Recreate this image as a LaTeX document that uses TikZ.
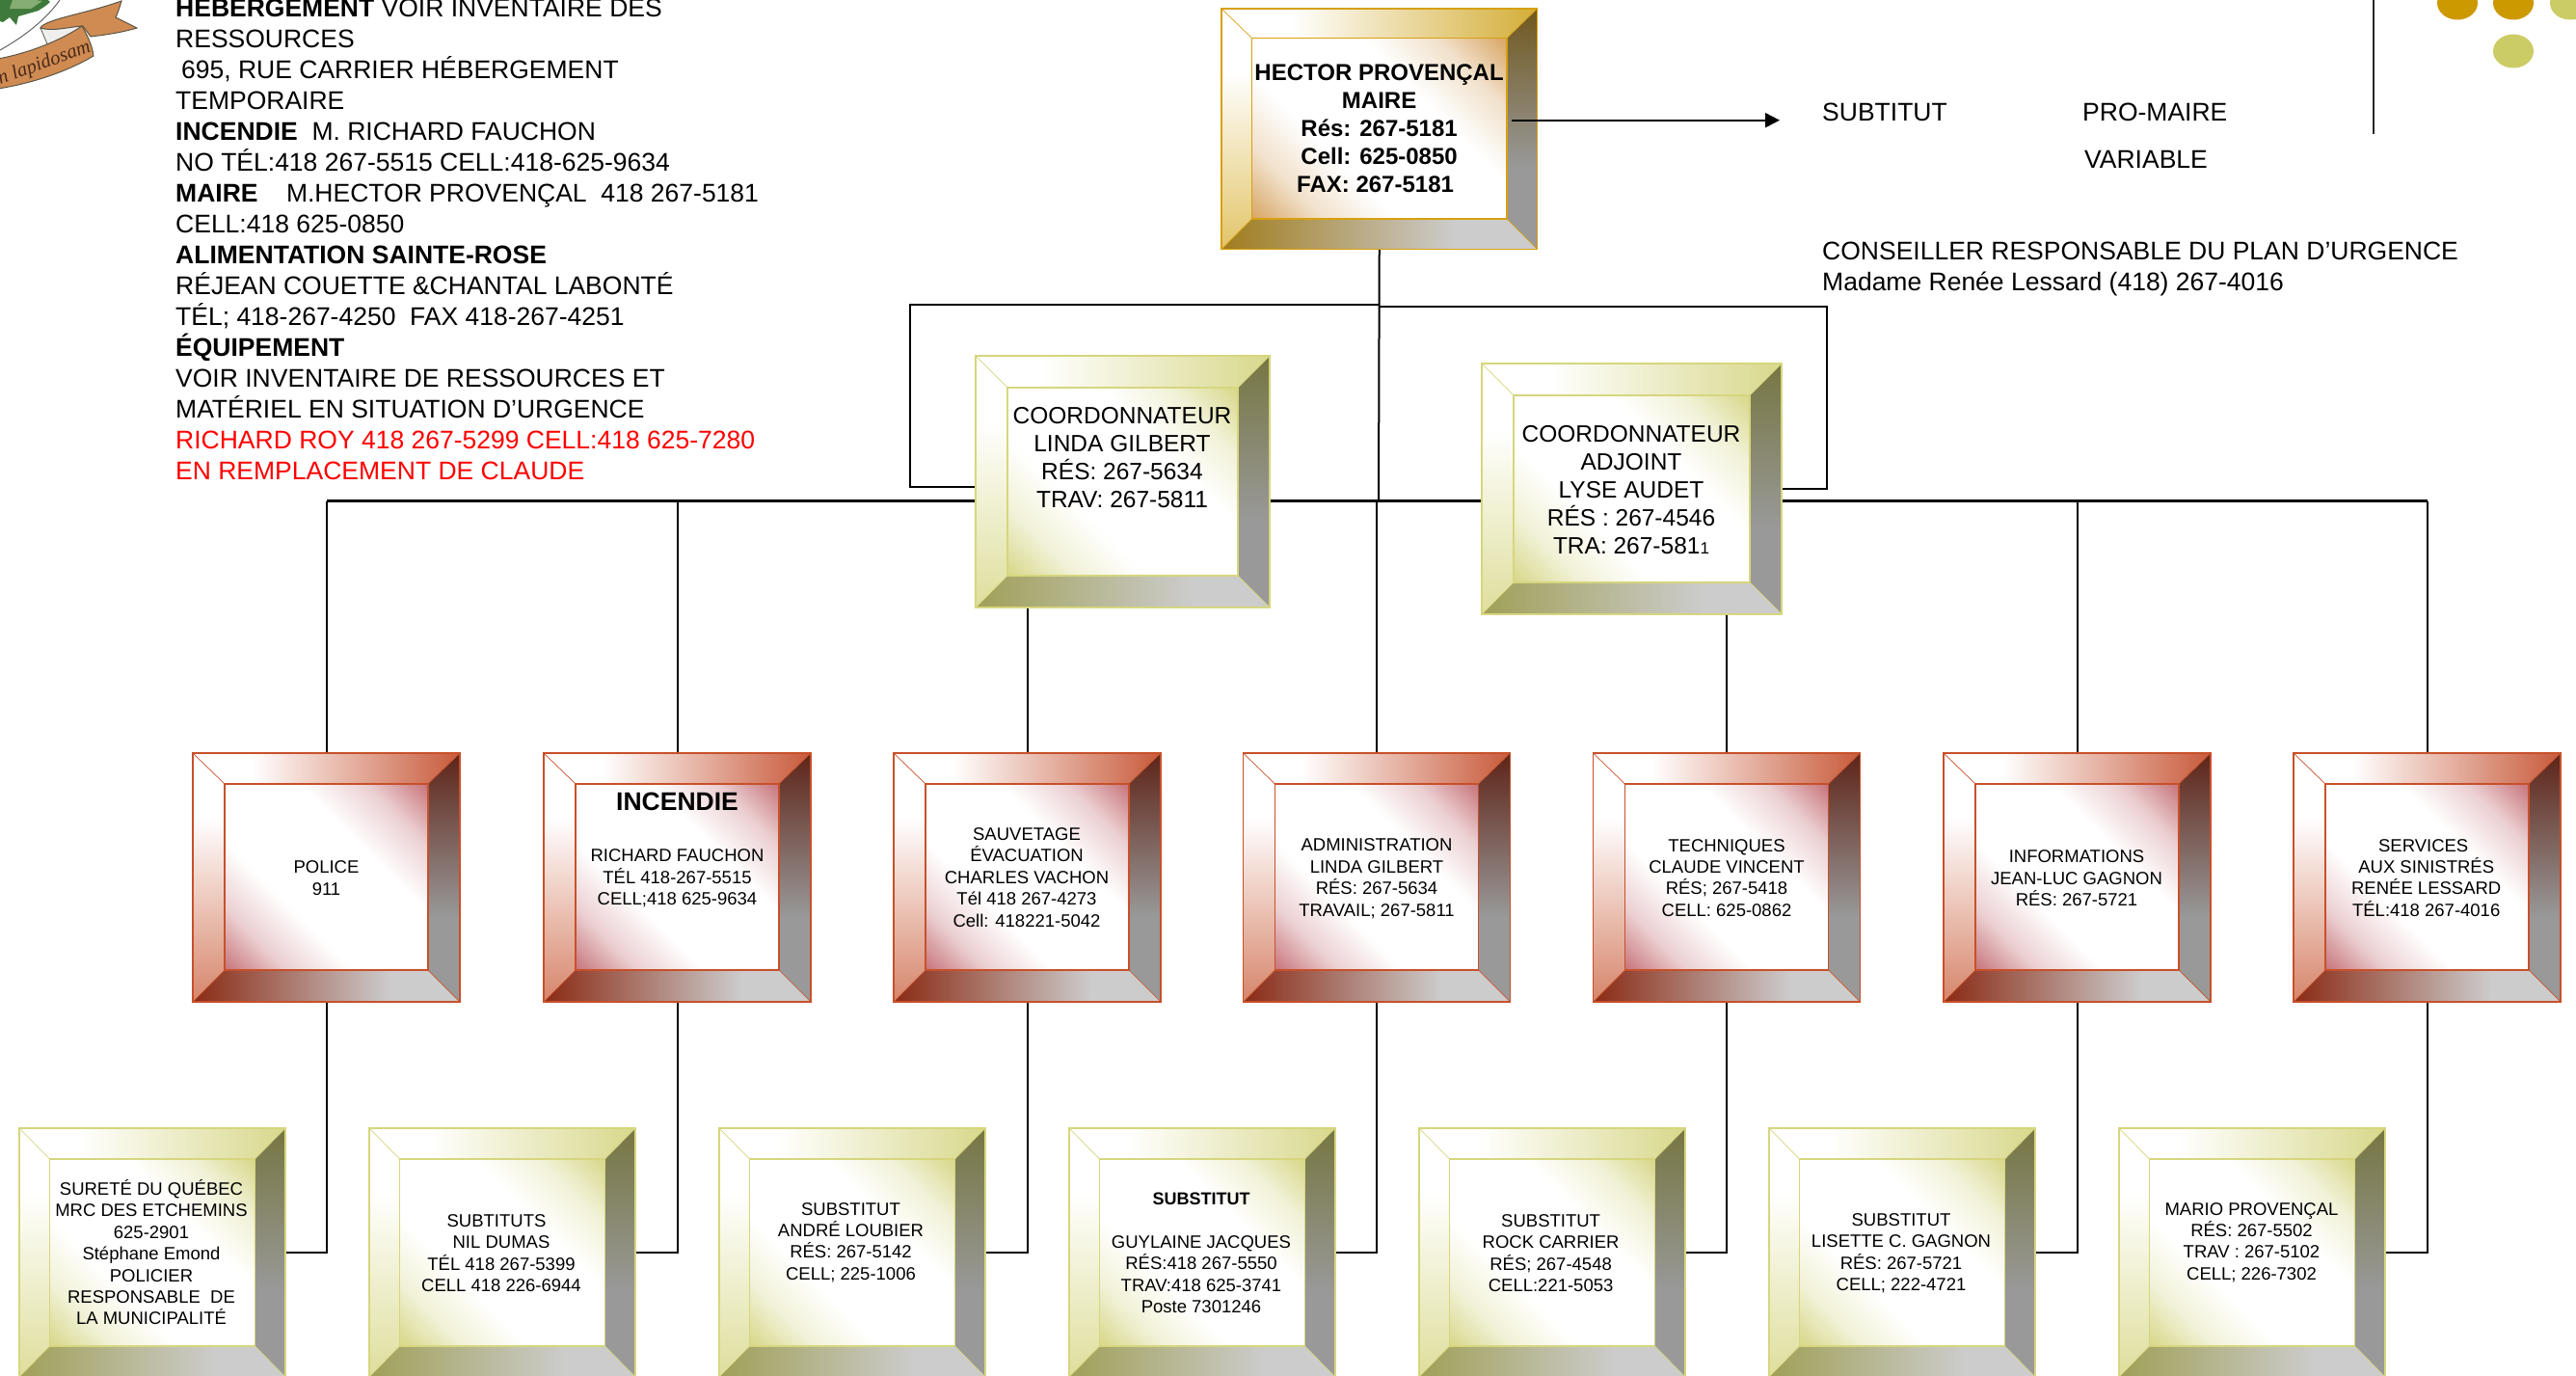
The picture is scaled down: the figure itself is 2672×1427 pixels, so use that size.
\documentclass[tikz,border=0pt]{standalone}
\usepackage{fontspec}
\setmainfont{Liberation Sans}
\newfontfamily\logofont{Liberation Serif}
\usetikzlibrary{arrows.meta,fit}
\pgfdeclarelayer{bg}
\pgfsetlayers{bg,main}
\definecolor{gldDot}{HTML}{CC9900}
\definecolor{grnDot}{HTML}{CCCC66}
\definecolor{ribbonFill}{HTML}{CF8B52}
\definecolor{ribbonLine}{HTML}{5C5646}
\definecolor{ribbonText}{HTML}{4A2A1A}
\definecolor{leafDark}{HTML}{3E7A3C}
\definecolor{leafLight}{HTML}{86AE72}
\definecolor{foldFill}{HTML}{EFEFEF}
\newcommand{\defscheme}[7]{%
 \definecolor{#1line}{HTML}{#2}\definecolor{#1face}{HTML}{#3}\definecolor{#1top}{HTML}{#4}%
 \definecolor{#1left}{HTML}{#5}\definecolor{#1dark}{HTML}{#6}\definecolor{#1low}{HTML}{#7}%
 \colorlet{#1mid}{#1face!35!white}%
 \definecolor{grayA}{HTML}{999999}\definecolor{grayB}{HTML}{CCCCCC}%
 \pgfdeclareverticalshading{#1Sface}{100bp}{color(0bp)=(#1face);color(15bp)=(#1face);color(26bp)=(#1mid);color(38bp)=(white);color(62bp)=(white);color(74bp)=(#1mid);color(85bp)=(#1face);color(100bp)=(#1face)}%
 \pgfdeclarehorizontalshading{#1Stop}{100bp}{color(0bp)=(white);color(36bp)=(white);color(75bp)=(#1top);color(100bp)=(#1top)}%
 \pgfdeclareverticalshading{#1Sleft}{100bp}{color(0bp)=(#1left);color(25bp)=(#1left);color(62bp)=(white);color(100bp)=(white)}%
 \pgfdeclareverticalshading{#1Sright}{100bp}{color(0bp)=(grayA);color(25bp)=(grayA);color(42bp)=(grayA);color(75bp)=(#1dark);color(100bp)=(#1dark)}%
 \pgfdeclarehorizontalshading{#1Sbot}{100bp}{color(0bp)=(#1low);color(25bp)=(#1low);color(62bp)=(grayB);color(75bp)=(grayB);color(100bp)=(grayB)}%
}
\defscheme{red}{C8502A}{C8787E}{C85A3A}{D6856A}{5E2418}{8A2A14}
\defscheme{grn}{D6D67E}{D8D88C}{D8D88C}{DEDE9C}{767642}{A0A058}
\defscheme{gld}{D8A010}{D8A868}{D4AE38}{E2C468}{70581E}{A07C1E}
\tikzset{
 x=1pt,y=-1pt,
 boxnode/.style={inner sep=0pt,outer sep=0pt},
 lbl/.style={align=center,inner sep=0pt,font=\fontsize{18.5}{22.4}\selectfont},
 midlbl/.style={align=center,inner sep=0pt,font=\fontsize{24.5}{29}\selectfont},
 toplbl/.style={align=center,inner sep=0pt,font=\fontsize{24}{29}\selectfont\bfseries},
 bigtxt/.style={align=left,inner sep=0pt,font=\fontsize{26.5}{32}\selectfont},
 link/.style={draw=black,line width=2pt},
 mainlink/.style={draw=black,line width=2.6pt},
 hairlink/.style={draw=black,line width=1.4pt},
}
\newcommand{\bev}[9]{%
 \shade[shading=#9Sface,shading angle=-45] (#2+#6,#3+#7) rectangle (#4-#6,#5-#8);
 \shade[shading=#9Stop] (#2,#3) -- (#4,#3) -- (#4-#6,#3+#7) -- (#2+#6,#3+#7) -- cycle;
 \shade[shading=#9Sleft] (#2,#3) -- (#2+#6,#3+#7) -- (#2+#6,#5-#8) -- (#2,#5) -- cycle;
 \shade[shading=#9Sright] (#4,#3) -- (#4,#5) -- (#4-#6,#5-#8) -- (#4-#6,#3+#7) -- cycle;
 \shade[shading=#9Sbot] (#2,#5) -- (#4,#5) -- (#4-#6,#5-#8) -- (#2+#6,#5-#8) -- cycle;
 \draw[#9line,line width=1.6pt] (#2,#3) rectangle (#4,#5);
 \draw[#9line,line width=1.1pt] (#2+#6,#3+#7) rectangle (#4-#6,#5-#8);
 \draw[#9line,line width=.7pt] (#2,#3) -- (#2+#6,#3+#7) (#4,#3) -- (#4-#6,#3+#7) (#2,#5) -- (#2+#6,#5-#8) (#4,#5) -- (#4-#6,#5-#8);
 \node[boxnode,fit={(#2,#3)(#4,#5)}] (#1) {};
}
\begin{document}
\begin{tikzpicture}
\useasboundingbox (0,0) rectangle (2672,1427);
\begin{pgfonlayer}{bg}\fill[white] (0,0) rectangle (2672,1427);\end{pgfonlayer}

% logo
\fill[leafDark] (52,2) .. controls (46,8) and (42,9) .. (40,11) -- (33,13) -- (19,17) -- (17,26) -- (10,18) -- (3,23) -- (0,22) -- (0,0) -- (47,-3) -- cycle;
\fill[leafLight] (14,-3) -- (44,1) -- (32,9) -- (10,9) -- cycle;
\draw[gray!70!black,line width=.9pt] (62,0) .. controls (48,20) and (25,38) .. (0,52);
\draw[ribbonLine,fill=foldFill,line width=.8pt] (42,29) -- (50,48) -- (88,35) -- (83,26) -- cycle;
\draw[ribbonLine,fill=ribbonFill,line width=1pt] (42,29) .. controls (46,20) and (90,14) .. (126,1) .. controls (124,8) and (122,14) .. (120,18) -- (142,29) .. controls (125,34) and (110,36) .. (94,38) -- (86,27) .. controls (70,28) and (55,33) .. (42,29) -- cycle;
\draw[ribbonLine,fill=ribbonFill,line width=1pt] (-2,61) .. controls (25,56) and (60,44) .. (85,27) .. controls (90,35) and (96,48) .. (97,58) .. controls (70,74) and (35,86) .. (-2,92) -- cycle;
\node[inner sep=0pt,rotate=20,text=ribbonText,font=\logofont\itshape\fontsize{20.5}{21}\selectfont] (motto) at (46,66) {n lapidosam};

% boxes
\bev{mayor}{1267}{9}{1594.5}{258.5}{31.5}{30.5}{31.5}{gld}
\bev{coordA}{1012}{369}{1317}{630}{33}{33}{33}{grn}
\bev{coordB}{1537}{377}{1848}{637}{33}{33}{33}{grn}
\bev{police}{200}{781}{477}{1039}{33}{32}{33}{red}
\bev{incendie}{564}{781}{841}{1039}{33}{32}{33}{red}
\bev{sauvetage}{927}{781}{1204}{1039}{33}{32}{33}{red}
\bev{admin}{1289.5}{781}{1566.5}{1039}{33}{32}{33}{red}
\bev{techniques}{1652.5}{781}{1929.5}{1039}{33}{32}{33}{red}
\bev{informations}{2016}{781}{2293}{1039}{33}{32}{33}{red}
\bev{services}{2379}{781}{2656}{1039}{33}{32}{33}{red}
\bev{surete}{20}{1170}{296}{1428}{31.5}{32}{32}{grn}
\bev{subtituts}{383}{1170}{659}{1428}{31.5}{32}{32}{grn}
\bev{loubier}{746}{1170}{1022}{1428}{31.5}{32}{32}{grn}
\bev{jacques}{1109}{1170}{1385}{1428}{31.5}{32}{32}{grn}
\bev{carrier}{1472}{1170}{1748}{1428}{31.5}{32}{32}{grn}
\bev{lisette}{1835}{1170}{2111}{1428}{31.5}{32}{32}{grn}
\bev{mario}{2198}{1170}{2474}{1428}{31.5}{32}{32}{grn}

% box labels
\node[toplbl] (mayorT) at (1430.6,133.3) {HECTOR PROVENÇAL\\MAIRE\\Rés: 267-5181\\Cell: 625-0850\\FAX: 267-5181\makebox[8pt]{}};
\node[midlbl] (coordAT) at (1164,474.5) {COORDONNATEUR\\LINDA GILBERT\\RÉS: 267-5634\\TRAV: 267-5811};
\node[midlbl] (coordBT) at (1692,507.8) {COORDONNATEUR\\ADJOINT\\LYSE AUDET\\RÉS : 267-4546\\TRA: 267-581{\fontsize{17}{17}\selectfont 1}};
\node[lbl] (policeT) at (338.5,910.5) {POLICE\\911};
\node[lbl] (incendieT) at (702.5,881.5) {{\fontsize{26.5}{30}\selectfont\bfseries INCENDIE}\\[31pt]RICHARD FAUCHON\\TÉL 418-267-5515\\CELL;418 625-9634};
\node[lbl] (sauvetageT) at (1065,910) {SAUVETAGE\\ÉVACUATION\\CHARLES VACHON\\Tél 418 267-4273\\Cell: 418221-5042};
\node[lbl] (adminT) at (1428,911.3) {ADMINISTRATION\\LINDA GILBERT\\RÉS: 267-5634\\TRAVAIL; 267-5811};
\node[lbl] (techniquesT) at (1791,910.3) {TECHNIQUES\\CLAUDE VINCENT\\RÉS; 267-5418\\CELL: 625-0862};
\node[lbl] (informationsT) at (2154,910.7) {INFORMATIONS\\JEAN-LUC GAGNON\\RÉS: 267-5721};
\node[lbl] (servicesT) at (2516.7,910.3) {SERVICES\makebox[6pt]{}\\AUX SINISTRÉS\\RENÉE LESSARD\\TÉL:418 267-4016};
\node[lbl] (sureteT) at (157,1298.7) {SURETÉ DU QUÉBEC\\MRC DES ETCHEMINS\\625-2901\\Stéphane Emond\\POLICIER\\RESPONSABLE~~DE\\LA MUNICIPALITÉ};
\node[lbl] (subtitutsT) at (520,1299.5) {SUBTITUTS\makebox[10pt]{}\\NIL DUMAS\\TÉL 418 267-5399\\CELL 418 226-6944};
\node[lbl] (loubierT) at (882.5,1288.5) {SUBSTITUT\\ANDRÉ LOUBIER\\RÉS: 267-5142\\CELL; 225-1006};
\node[lbl] (jacquesT) at (1246,1299.5) {{\fontsize{18}{22}\selectfont\bfseries SUBSTITUT}\\[22.4pt]GUYLAINE JACQUES\\RÉS:418 267-5550\\TRAV:418 625-3741\\Poste 7301246};
\node[lbl] (carrierT) at (1608.6,1299.7) {SUBSTITUT\\ROCK CARRIER\\RÉS; 267-4548\\CELL:221-5053};
\node[lbl] (lisetteT) at (1972,1299.7) {SUBSTITUT\\LISETTE C. GAGNON\\RÉS: 267-5721\\CELL; 222-4721};
\node[lbl] (marioT) at (2335.5,1288.5) {MARIO PROVENÇAL\\RÉS: 267-5502\\TRAV : 267-5102\\CELL; 226-7302};

% free texts
\node[bigtxt,anchor=north west] (info) at (182,-1.3) {\textbf{HEBERGEMENT} VOIR INVENTAIRE DES\\RESSOURCES\\\hspace*{6pt}695, RUE CARRIER HÉBERGEMENT\\TEMPORAIRE\\\textbf{INCENDIE}~~M. RICHARD FAUCHON\\NO TÉL:418 267-5515 CELL:418-625-9634\\\textbf{MAIRE}~~~~M.HECTOR PROVENÇAL~~418 267-5181\\CELL:418 625-0850\\\textbf{ALIMENTATION SAINTE-ROSE}\\RÉJEAN COUETTE \&CHANTAL LABONTÉ\\TÉL; 418-267-4250~~FAX 418-267-4251\\\textbf{ÉQUIPEMENT}\\VOIR INVENTAIRE DE RESSOURCES ET\\MATÉRIEL EN SITUATION D’URGENCE\\\textcolor{red}{RICHARD ROY 418 267-5299 CELL:418 625-7280}\\\textcolor{red}{EN REMPLACEMENT DE CLAUDE}};
\node[bigtxt,anchor=west] (subst) at (1890,116.7) {SUBTITUT};
\node[bigtxt,anchor=west] (promaire) at (2160,116.7) {PRO-MAIRE};
\node[bigtxt,anchor=west] (variable) at (2162,165.5) {VARIABLE};
\node[bigtxt,anchor=north west] (conseiller) at (1890,251) {CONSEILLER RESPONSABLE DU PLAN D’URGENCE\\Madame Renée Lessard (418) 267-4016};

% decorations
\coordinate (ruleTop) at (2462,0);
\coordinate (ruleEnd) at (2462,139);
\draw[black!85,line width=1.6pt] (ruleTop) -- (ruleEnd);
\fill[gldDot] (2549,3) ellipse [x radius=21,y radius=17.5];
\fill[gldDot] (2607,3) ellipse [x radius=21,y radius=17.5];
\fill[grnDot] (2666,3) ellipse [x radius=21,y radius=17.5];
\fill[grnDot] (2607,53) ellipse [x radius=21,y radius=17.5];

% connectors
\coordinate (arrowFrom) at (1568,124.7);
\coordinate (arrowTo) at (1846,124.7);
\draw[link,-{Triangle[length=15pt,width=15pt]}] (arrowFrom) -- (arrowTo);
\coordinate (hub) at (1430,519.5);
\coordinate (adminTop) at (1428,519.5);
\coordinate (braceL) at (943.5,316);
\coordinate (braceLin) at (1012,505);
\coordinate (braceLtop) at (1431,316);
\coordinate (braceR) at (1895,318);
\coordinate (braceRin) at (1848,507);
\coordinate (braceRtop) at (1431,318);
\begin{pgfonlayer}{bg}
 \draw[link] (mayor.south) -- (hub);
 \draw[link] (braceLtop) -- (braceL) |- (braceLin);
 \draw[link] (braceRtop) -- (braceR) |- (braceRin);
 \draw[mainlink] (police.north |- hub) -- (services.north |- hub);
 \draw[link] (police.north) -- (police.north |- hub);
 \draw[link] (incendie.north) -- (incendie.north |- hub);
 \draw[link] (services.north) -- (services.north |- hub);
 \draw[link] (informations.north) -- (informations.north |- hub);
 \draw[hairlink] (admin.north) -- (adminTop);
 \draw[link] (sauvetage.north) -- (sauvetage.north |- coordA.south);
 \draw[link] (techniques.north) -- (techniques.north |- coordB.south);
 \draw[link] (police.south) |- (surete.east);
 \draw[link] (incendie.south) |- (subtituts.east);
 \draw[link] (sauvetage.south) |- (loubier.east);
 \draw[link] (admin.south) |- (jacques.east);
 \draw[link] (techniques.south) |- (carrier.east);
 \draw[link] (informations.south) |- (lisette.east);
 \draw[link] (services.south) |- (mario.east);
\end{pgfonlayer}
\end{tikzpicture}
\end{document}
